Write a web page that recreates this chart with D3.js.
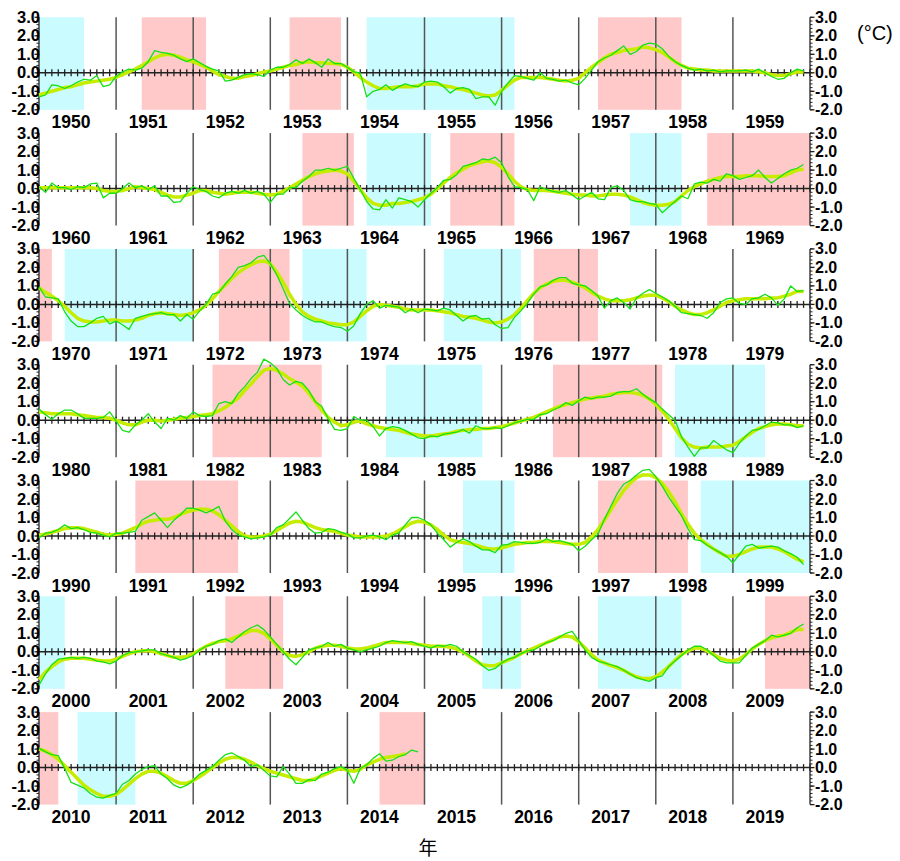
<!DOCTYPE html>
<html>
<head>
<meta charset="utf-8">
<script src="https://cdn.jsdelivr.net/npm/d3@7"></script>
<style>
  body { margin: 0; background: #fff; }
  svg text { font-family: Helvetica, Arial, 'Liberation Sans', sans-serif; }
</style>
</head>
<body>
<svg id="chart" width="900" height="861"></svg>
<script>
// NINO.3 SST deviation, monthly values (green) and 5-month running mean (yellow)
const decades = [1950, 1960, 1970, 1980, 1990, 2000, 2010];

const monthly1950s = [
  -1.3, -1.2, -0.65, -0.7, -0.85, -0.7, -0.5, -0.35, -0.4, -0.15, -0.75, -0.65,
  -0.2, 0.05, 0.2, 0.15, 0.25, 0.6, 1.2, 1.1, 1.05, 0.95, 0.75, 0.6,
  0.75, 0.55, 0.35, 0.2, 0.1, -0.45, -0.4, -0.25, -0.1, -0.05, -0.1, -0.2,
  0.15, 0.3, 0.3, 0.45, 0.7, 0.5, 0.75, 0.55, 0.3, 0.75, 0.5, 0.5,
  0.3, 0.05, 0.0, -1.3, -1.0, -0.9, -0.65, -0.95, -0.75, -0.6, -0.7, -0.75,
  -0.5, -0.45, -0.5, -0.75, -1.1, -0.85, -0.8, -0.9, -1.4, -1.3, -1.3, -1.75,
  -1.0, -0.55, -0.15, -0.2, -0.3, -0.4, 0.0, -0.3, -0.35, -0.45, -0.4, -0.55,
  -0.65, -0.3, 0.15, 0.6, 0.8, 0.95, 1.2, 1.45, 1.0, 1.15, 1.5, 1.6,
  1.55, 1.3, 0.9, 0.6, 0.4, 0.25, 0.15, 0.2, 0.1, 0.15, 0.05, 0.1,
  0.1, 0.1, 0.15, 0.05, 0.2, 0.0, -0.2, -0.35, -0.3, 0.0, 0.2, 0.1
];
const mean1950s = [
  -1.2, -1.1, -1.0, -0.9, -0.8, -0.75, -0.65, -0.55, -0.5, -0.45, -0.4, -0.35,
  -0.25, -0.1, 0.05, 0.2, 0.4, 0.6, 0.8, 0.95, 1.0, 0.95, 0.85, 0.7,
  0.6, 0.45, 0.3, 0.1, -0.1, -0.2, -0.3, -0.3, -0.2, -0.15, -0.05, 0.05,
  0.1, 0.2, 0.3, 0.4, 0.45, 0.55, 0.6, 0.55, 0.55, 0.5, 0.5, 0.45,
  0.3, 0.05, -0.25, -0.5, -0.7, -0.85, -0.85, -0.8, -0.75, -0.75, -0.75, -0.7,
  -0.6, -0.6, -0.6, -0.7, -0.75, -0.85, -0.9, -1.0, -1.1, -1.2, -1.25, -1.2,
  -0.95, -0.65, -0.4, -0.25, -0.25, -0.25, -0.25, -0.3, -0.35, -0.4, -0.45, -0.4,
  -0.3, 0.0, 0.3, 0.55, 0.8, 1.0, 1.1, 1.2, 1.25, 1.3, 1.4, 1.35,
  1.25, 1.1, 0.85, 0.6, 0.4, 0.25, 0.2, 0.15, 0.15, 0.1, 0.1, 0.1,
  0.1, 0.1, 0.1, 0.1, 0.05, 0.0, -0.1, -0.15, -0.15, -0.05, 0.05, 0.05
];

const monthly1960s = [
  0.1, -0.2, 0.3, 0.05, 0.05, -0.05, 0.1, 0.05, 0.25, 0.3, -0.5, -0.25,
  -0.25, 0.0, 0.3, 0.05, 0.15, -0.05, 0.15, -0.4, -0.4, -0.75, -0.7, -0.25,
  0.1, -0.05, -0.15, -0.4, -0.5, -0.25, -0.15, -0.25, -0.1, -0.25, -0.15, -0.3,
  -0.75, -0.3, -0.3, 0.05, 0.05, 0.4, 0.65, 1.0, 1.0, 1.1, 1.0, 1.1,
  1.2, 0.55, -0.05, -0.7, -1.1, -1.15, -0.6, -1.05, -0.5, -0.6, -0.7, -1.0,
  -0.6, -0.25, 0.05, 0.45, 0.5, 0.75, 1.2, 1.3, 1.4, 1.6, 1.55, 1.7,
  1.4, 0.65, 0.1, 0.05, -0.05, -0.65, 0.1, -0.05, -0.15, -0.2, -0.1, -0.35,
  -0.6, -0.4, -0.2, -0.55, -0.6, 0.05, 0.15, -0.1, -0.6, -0.7, -0.7, -0.8,
  -0.85, -1.3, -1.0, -0.7, -0.4, -0.55, 0.25, 0.35, 0.3, 0.5, 0.4, 0.8,
  0.7, 0.5, 0.6, 0.7, 1.0, 0.6, 0.3, 0.55, 0.8, 1.0, 1.1, 1.3
];
const mean1960s = [
  0.05, 0.05, 0.05, 0.05, 0.05, 0.05, 0.05, 0.05, 0.05, 0.0, -0.1, -0.15,
  -0.15, -0.1, 0.0, 0.1, 0.05, 0.0, -0.05, -0.2, -0.35, -0.45, -0.45, -0.35,
  -0.25, -0.1, -0.1, -0.2, -0.25, -0.3, -0.25, -0.2, -0.2, -0.2, -0.25, -0.3,
  -0.35, -0.3, -0.15, 0.05, 0.25, 0.45, 0.65, 0.8, 0.9, 0.95, 1.0, 0.95,
  0.8, 0.4, -0.05, -0.5, -0.8, -0.9, -0.9, -0.8, -0.8, -0.75, -0.7, -0.6,
  -0.5, -0.3, 0.0, 0.3, 0.6, 0.85, 1.05, 1.25, 1.35, 1.45, 1.5, 1.4,
  1.15, 0.8, 0.4, 0.1, -0.05, -0.1, -0.1, -0.1, -0.15, -0.2, -0.25, -0.3,
  -0.35, -0.35, -0.4, -0.4, -0.35, -0.3, -0.3, -0.35, -0.45, -0.6, -0.75, -0.85,
  -0.9, -0.9, -0.85, -0.7, -0.4, -0.1, 0.1, 0.25, 0.4, 0.5, 0.6, 0.65,
  0.65, 0.65, 0.7, 0.7, 0.7, 0.65, 0.65, 0.65, 0.7, 0.85, 1.0, 1.05
];

const monthly1970s = [
  0.95, 0.4, 0.35, 0.3, -0.4, -0.9, -1.2, -1.2, -1.0, -0.75, -0.65, -1.05,
  -0.9, -1.1, -1.35, -0.75, -0.65, -0.55, -0.5, -0.45, -0.55, -0.55, -0.9, -0.55,
  -0.8, -0.35, 0.0, 0.55, 0.65, 1.1, 1.5, 2.0, 2.1, 2.25, 2.55, 2.65,
  2.2, 1.6, 0.85, 0.05, -0.3, -0.6, -0.8, -0.95, -0.95, -1.1, -1.2, -1.25,
  -1.45, -1.15, -0.5, 0.0, 0.2, -0.2, -0.05, -0.1, -0.15, -0.45, -0.25, -0.45,
  -0.25, -0.3, -0.35, -0.2, -0.3, -0.6, -0.9, -0.65, -0.6, -0.8, -0.75, -1.1,
  -1.3, -1.25, -0.7, -0.35, 0.05, 0.55, 0.95, 1.05, 1.3, 1.45, 1.45, 1.15,
  1.05, 1.0, 0.75, 0.45, -0.2, 0.2, 0.35, 0.1, -0.25, 0.35, 0.6, 0.8,
  0.6, 0.4, 0.2, -0.1, -0.45, -0.5, -0.55, -0.6, -0.75, -0.45, 0.1, 0.3,
  0.35, 0.05, 0.0, 0.3, 0.35, 0.55, 0.35, -0.05, 0.3, 1.0, 0.7, 0.75
];
const mean1970s = [
  0.9, 0.65, 0.45, 0.2, -0.1, -0.45, -0.75, -0.9, -0.95, -0.95, -0.9, -0.85,
  -0.85, -0.9, -0.9, -0.85, -0.75, -0.6, -0.5, -0.45, -0.5, -0.55, -0.6, -0.55,
  -0.45, -0.3, -0.05, 0.3, 0.7, 1.05, 1.4, 1.7, 1.95, 2.15, 2.3, 2.35,
  2.2, 1.75, 1.2, 0.55, 0.0, -0.4, -0.65, -0.8, -0.9, -1.0, -1.05, -1.1,
  -1.1, -0.95, -0.65, -0.35, -0.1, 0.0, -0.05, -0.1, -0.15, -0.25, -0.3, -0.3,
  -0.3, -0.3, -0.35, -0.4, -0.45, -0.55, -0.65, -0.7, -0.75, -0.85, -0.95, -1.0,
  -0.95, -0.8, -0.55, -0.2, 0.2, 0.6, 0.9, 1.1, 1.25, 1.3, 1.3, 1.2,
  1.05, 0.9, 0.65, 0.45, 0.3, 0.2, 0.2, 0.2, 0.25, 0.35, 0.45, 0.5,
  0.5, 0.35, 0.15, -0.1, -0.3, -0.45, -0.55, -0.55, -0.45, -0.3, -0.1, 0.1,
  0.2, 0.25, 0.3, 0.3, 0.3, 0.3, 0.35, 0.35, 0.45, 0.55, 0.7, 0.7
];

const monthly1980s = [
  0.6, 0.3, 0.05, 0.35, 0.55, 0.55, 0.35, 0.1, 0.1, 0.1, 0.15, 0.45,
  -0.05, -0.55, -0.65, -0.25, 0.0, 0.35, -0.1, -0.45, 0.1, 0.0, 0.25, 0.1,
  0.45, 0.25, 0.2, 0.25, 0.9, 1.0, 0.9, 1.45, 1.8, 2.25, 2.6, 3.3,
  3.1, 2.8, 2.2, 1.9, 2.1, 2.0, 1.6, 1.0, 0.75, 0.1, -0.5, -0.55,
  -0.45, 0.2, 0.0, 0.0, -0.35, -0.85, -0.45, -0.35, -0.4, -0.55, -0.75, -0.95,
  -1.0, -0.85, -0.9, -0.75, -0.7, -0.65, -0.5, -0.7, -0.3, -0.45, -0.45, -0.4,
  -0.45, -0.3, -0.15, -0.05, 0.05, 0.05, 0.3, 0.35, 0.55, 0.7, 0.95, 0.8,
  1.05, 1.25, 1.15, 1.25, 1.25, 1.3, 1.5, 1.55, 1.55, 1.7, 1.4, 1.15,
  0.95, 0.6, 0.3, 0.0, -0.9, -1.45, -1.95, -1.5, -1.5, -1.1, -1.35, -1.6,
  -1.75, -1.25, -0.85, -0.55, -0.5, -0.3, -0.1, -0.15, -0.25, -0.25, -0.4, -0.3
];
const mean1980s = [
  0.45, 0.4, 0.35, 0.35, 0.35, 0.35, 0.3, 0.25, 0.2, 0.15, 0.15, 0.1,
  0.0, -0.15, -0.25, -0.25, -0.1, 0.0, 0.0, -0.05, 0.0, 0.05, 0.1, 0.15,
  0.2, 0.25, 0.3, 0.35, 0.5, 0.7, 0.95, 1.2, 1.6, 1.95, 2.35, 2.7,
  2.8, 2.7, 2.5, 2.25, 2.05, 1.85, 1.45, 1.0, 0.55, 0.15, -0.1, -0.3,
  -0.25, -0.1, -0.05, -0.2, -0.3, -0.4, -0.45, -0.5, -0.55, -0.65, -0.75, -0.8,
  -0.85, -0.85, -0.8, -0.75, -0.7, -0.6, -0.55, -0.5, -0.5, -0.45, -0.45, -0.4,
  -0.35, -0.25, -0.15, -0.05, 0.05, 0.15, 0.3, 0.45, 0.6, 0.75, 0.85, 0.95,
  1.05, 1.15, 1.2, 1.25, 1.3, 1.4, 1.45, 1.5, 1.5, 1.45, 1.35, 1.15,
  0.85, 0.5, 0.05, -0.45, -0.95, -1.3, -1.45, -1.5, -1.45, -1.45, -1.45, -1.4,
  -1.35, -1.15, -0.9, -0.65, -0.45, -0.35, -0.25, -0.2, -0.2, -0.25, -0.3, -0.3
];

const monthly1990s = [
  -0.1, 0.15, 0.2, 0.35, 0.6, 0.4, 0.45, 0.35, 0.2, 0.15, 0.05, -0.05,
  0.15, 0.15, 0.2, 0.25, 0.85, 1.05, 1.25, 0.85, 0.45, 0.85, 1.15, 1.5,
  1.5, 1.4, 1.25, 1.4, 1.6, 0.8, 0.35, 0.05, -0.05, -0.15, -0.1, -0.05,
  0.05, 0.45, 0.6, 0.95, 1.3, 0.85, 0.4, 0.15, 0.2, 0.4, 0.35, 0.2,
  0.1, -0.1, -0.1, 0.0, 0.05, -0.05, -0.2, 0.05, 0.15, 0.6, 1.0, 1.0,
  0.85, 0.6, 0.15, -0.2, -0.6, -0.35, -0.15, -0.3, -0.55, -0.75, -0.75, -0.9,
  -0.5, -0.45, -0.3, -0.35, -0.4, -0.4, -0.35, -0.15, -0.3, -0.25, -0.35, -0.45,
  -0.8, -0.55, -0.2, 0.1, 0.9, 1.6, 2.3, 2.8, 3.0, 3.3, 3.55, 3.6,
  3.2, 2.7, 2.1, 1.6, 1.1, 0.4, -0.2, -0.25, -0.5, -0.7, -0.9, -1.1,
  -1.45, -1.0, -0.55, -0.45, -0.65, -0.6, -0.55, -0.6, -0.8, -0.95, -1.15, -1.55
];
const mean1990s = [
  0.05, 0.1, 0.2, 0.3, 0.4, 0.45, 0.45, 0.4, 0.3, 0.2, 0.1, 0.05,
  0.1, 0.15, 0.3, 0.45, 0.65, 0.8, 0.85, 0.9, 0.9, 1.0, 1.15, 1.3,
  1.4, 1.45, 1.45, 1.35, 1.15, 0.85, 0.55, 0.25, 0.0, -0.05, -0.05, 0.0,
  0.1, 0.3, 0.5, 0.7, 0.8, 0.75, 0.6, 0.45, 0.35, 0.3, 0.25, 0.15,
  0.05, 0.0, -0.05, -0.05, -0.05, -0.05, 0.0, 0.1, 0.3, 0.5, 0.7, 0.8,
  0.75, 0.6, 0.35, 0.05, -0.2, -0.3, -0.35, -0.4, -0.5, -0.6, -0.7, -0.7,
  -0.65, -0.55, -0.45, -0.4, -0.35, -0.35, -0.3, -0.3, -0.3, -0.35, -0.4, -0.45,
  -0.45, -0.35, -0.05, 0.35, 0.85, 1.4, 1.95, 2.45, 2.85, 3.15, 3.3, 3.3,
  3.15, 2.85, 2.4, 1.85, 1.2, 0.65, 0.15, -0.2, -0.45, -0.7, -0.9, -1.1,
  -1.1, -1.0, -0.85, -0.7, -0.6, -0.6, -0.6, -0.7, -0.85, -1.05, -1.25, -1.4
];

const monthly2000s = [
  -1.8, -1.2, -0.7, -0.4, -0.35, -0.3, -0.35, -0.3, -0.35, -0.5, -0.55, -0.65,
  -0.5, -0.2, -0.05, 0.0, 0.05, 0.1, 0.1, -0.1, -0.2, -0.3, -0.45, -0.35,
  -0.2, 0.1, 0.3, 0.4, 0.6, 0.7, 0.5, 0.8, 1.1, 1.3, 1.45, 1.2,
  0.8, 0.4, 0.0, -0.4, -0.7, -0.3, 0.1, 0.2, 0.3, 0.5, 0.3, 0.4,
  0.2, 0.1, 0.0, 0.1, 0.2, 0.3, 0.5, 0.6, 0.55, 0.5, 0.55, 0.4,
  0.3, 0.2, 0.35, 0.3, 0.4, 0.3, 0.0, -0.2, -0.4, -0.75, -1.0, -0.9,
  -0.6, -0.4, -0.3, -0.1, 0.05, 0.1, 0.3, 0.5, 0.6, 0.8, 1.0, 1.1,
  0.6, 0.1, -0.3, -0.5, -0.6, -0.7, -0.8, -1.0, -1.2, -1.4, -1.5, -1.6,
  -1.4, -1.3, -0.8, -0.5, -0.2, 0.1, 0.3, 0.3, 0.1, -0.2, -0.5, -0.6,
  -0.6, -0.6, -0.2, 0.2, 0.4, 0.6, 0.9, 0.8, 0.9, 1.0, 1.3, 1.5
];
const mean2000s = [
  -1.5, -1.1, -0.8, -0.55, -0.4, -0.35, -0.35, -0.35, -0.4, -0.45, -0.5, -0.5,
  -0.4, -0.25, -0.1, 0.0, 0.05, 0.05, 0.0, -0.1, -0.2, -0.3, -0.3, -0.25,
  -0.1, 0.1, 0.3, 0.45, 0.55, 0.6, 0.7, 0.85, 1.0, 1.15, 1.15, 1.0,
  0.7, 0.35, 0.0, -0.2, -0.25, -0.15, 0.0, 0.2, 0.3, 0.35, 0.35, 0.3,
  0.2, 0.15, 0.15, 0.2, 0.3, 0.4, 0.5, 0.5, 0.5, 0.5, 0.45, 0.4,
  0.35, 0.3, 0.3, 0.3, 0.25, 0.15, 0.0, -0.25, -0.5, -0.7, -0.75, -0.75,
  -0.6, -0.45, -0.3, -0.1, 0.05, 0.2, 0.35, 0.5, 0.65, 0.8, 0.85, 0.8,
  0.55, 0.2, -0.15, -0.45, -0.6, -0.75, -0.85, -1.0, -1.2, -1.35, -1.45, -1.45,
  -1.35, -1.1, -0.8, -0.45, -0.15, 0.05, 0.2, 0.2, 0.05, -0.15, -0.35, -0.45,
  -0.5, -0.4, -0.15, 0.15, 0.4, 0.6, 0.75, 0.85, 0.9, 1.05, 1.2, 1.2
];

const monthly2010s = [
  1.05, 0.85, 0.7, 0.65, -0.05, -0.8, -0.95, -1.1, -1.4, -1.6, -1.65, -1.5,
  -1.4, -0.9, -0.7, -0.35, -0.1, 0.05, 0.1, -0.35, -0.6, -0.95, -1.1, -0.95,
  -0.7, -0.35, -0.15, 0.05, 0.4, 0.7, 0.8, 0.6, 0.4, 0.05, 0.15, -0.15,
  -0.45, -0.5, 0.05, -0.35, -0.85, -0.85, -0.65, -0.7, -0.35, -0.25, -0.05, 0.05,
  -0.15, -0.85, -0.05, 0.15, 0.5, 0.75, 0.35, 0.4, 0.6, 0.7, 0.95, 0.85
];
const mean2010s = [
  1.0, 0.9, 0.7, 0.45, 0.1, -0.25, -0.6, -0.95, -1.2, -1.4, -1.55, -1.55,
  -1.45, -1.2, -0.9, -0.6, -0.35, -0.2, -0.2, -0.3, -0.5, -0.7, -0.85, -0.85,
  -0.7, -0.5, -0.25, 0.0, 0.25, 0.45, 0.55, 0.55, 0.45, 0.3, 0.1, -0.05,
  -0.2, -0.3, -0.4, -0.5, -0.6, -0.7, -0.7, -0.6, -0.45, -0.3, -0.15, -0.05,
  -0.15, -0.2, -0.1, 0.15, 0.3, 0.45, 0.55, 0.6, 0.65, 0.75
];

// El Nino (pink) and La Nina (cyan) periods, first and last month
const elNino = [
  ['1951-05', '1952-02'], ['1953-04', '1953-11'], ['1957-04', '1958-04'],
  ['1963-06', '1964-01'], ['1965-05', '1966-02'], ['1968-09', '1970-02'],
  ['1972-05', '1973-03'], ['1976-06', '1977-03'], ['1982-04', '1983-08'],
  ['1986-09', '1988-01'], ['1991-04', '1992-07'], ['1997-04', '1998-05'],
  ['2002-06', '2003-02'], ['2009-06', '2010-03'], ['2014-06', '2014-12']
];
const laNina = [
  ['1950-01', '1950-07'], ['1954-04', '1956-02'], ['1964-04', '1965-01'],
  ['1967-09', '1968-04'], ['1970-05', '1971-12'], ['1973-06', '1974-03'],
  ['1975-04', '1976-03'], ['1984-07', '1985-09'], ['1988-04', '1989-05'],
  ['1995-07', '1996-02'], ['1998-08', '2000-04'], ['2005-10', '2006-03'],
  ['2007-04', '2008-04'], ['2010-07', '2011-03']
];

const yTicks = [3, 2, 1, 0, -1, -2];

const monthlyByDecade = [monthly1950s, monthly1960s, monthly1970s, monthly1980s, monthly1990s, monthly2000s, monthly2010s];
const meanByDecade = [mean1950s, mean1960s, mean1970s, mean1980s, mean1990s, mean2000s, mean2010s];

// layout
const left = 39, right = 810;
const panelTop = 17.3, panelStep = 115.8, panelH = 92.5;

const svg = d3.select('#chart');

const x = d3.scaleLinear().domain([0, 120]).range([left, right]);
const y = d3.scaleLinear().domain([-2, 3]).range([panelH, 0]);

// month index counted from January of the panel's decade
function monthIndex(s, decade) {
  const [yy, mm] = s.split('-').map(Number);
  return (yy - decade) * 12 + (mm - 1);
}

decades.forEach((decade, i) => {
  const g = svg.append('g')
    .attr('transform', `translate(0,${panelTop + i * panelStep})`);

  // shaded periods
  const shade = (periods, color) => {
    periods.forEach(p => {
      const s = Math.max(0, monthIndex(p[0], decade));
      const e = Math.min(120, monthIndex(p[1], decade) + 1);
      if (e <= s) return;
      g.append('rect')
        .attr('x', x(s))
        .attr('y', 0)
        .attr('width', x(e) - x(s))
        .attr('height', panelH)
        .attr('fill', color);
    });
  };
  shade(elNino, '#ffc9c9');
  shade(laNina, '#c9fbff');

  // year separators
  g.selectAll('.yearline')
    .data(d3.range(12, 120, 12))
    .enter()
    .append('line')
    .attr('x1', d => x(d)).attr('x2', d => x(d))
    .attr('y1', 0).attr('y2', panelH)
    .attr('stroke', '#555')
    .attr('stroke-width', 1.5);

  // zero line with monthly ticks
  g.append('line')
    .attr('x1', left).attr('x2', right)
    .attr('y1', y(0)).attr('y2', y(0))
    .attr('stroke', '#222')
    .attr('stroke-width', 1.5);
  g.selectAll('.mtick')
    .data(d3.range(0, 121))
    .enter()
    .append('line')
    .attr('x1', d => x(d)).attr('x2', d => x(d))
    .attr('y1', y(0) - 3.5).attr('y2', y(0) + 3.5)
    .attr('stroke', '#222')
    .attr('stroke-width', 1.3);

  // left and right axes
  const minor = d3.range(-2, 3.01, 0.2);
  [[left, -1], [right, 1]].forEach(([ax, dir]) => {
    g.append('line')
      .attr('x1', ax).attr('x2', ax)
      .attr('y1', 0).attr('y2', panelH)
      .attr('stroke', '#222').attr('stroke-width', 1.3);
    g.selectAll(null)
      .data(minor)
      .enter()
      .append('line')
      .attr('x1', ax).attr('x2', ax + dir * 2.5)
      .attr('y1', d => y(d)).attr('y2', d => y(d))
      .attr('stroke', '#222').attr('stroke-width', 1);
    g.selectAll(null)
      .data(yTicks)
      .enter()
      .append('line')
      .attr('x1', ax).attr('x2', ax + dir * 4.5)
      .attr('y1', d => y(d)).attr('y2', d => y(d))
      .attr('stroke', '#222').attr('stroke-width', 1.3);
  });
  g.selectAll('.ylabL')
    .data(yTicks)
    .enter()
    .append('text')
    .attr('x', left + 1)
    .attr('y', d => y(d) + 5.5)
    .attr('text-anchor', 'end')
    .style('font-size', '16.5px')
    .style('font-weight', 'bold')
    .text(d => d.toFixed(1));
  g.selectAll('.ylabR')
    .data(yTicks)
    .enter()
    .append('text')
    .attr('x', right + 5)
    .attr('y', d => y(d) + 5.5)
    .attr('text-anchor', 'start')
    .style('font-size', '16px')
    .style('font-weight', 'bold')
    .text(d => d.toFixed(1));

  // running mean, then monthly values
  const line = d3.line()
    .x((d, k) => x(k))
    .y(d => y(d));
  g.append('path')
    .datum(meanByDecade[i])
    .attr('d', line)
    .attr('fill', 'none')
    .attr('stroke', '#c6ec00')
    .attr('stroke-width', 3.5)
    .attr('stroke-linejoin', 'round');
  g.append('path')
    .datum(monthlyByDecade[i])
    .attr('d', line)
    .attr('fill', 'none')
    .attr('stroke', '#16e016')
    .attr('stroke-width', 1.3)
    .attr('stroke-linejoin', 'round');

  // year labels
  g.selectAll('.ylab')
    .data(d3.range(10))
    .enter()
    .append('text')
    .attr('x', d => x(d * 12) + 32)
    .attr('y', panelH + 18.5)
    .attr('text-anchor', 'middle')
    .style('font-size', '17.5px')
    .style('font-weight', 'bold')
    .text(d => decade + d);
});

// unit and axis title
svg.append('text')
  .attr('x', 857)
  .attr('y', 40)
  .style('font-size', '20px')
  .text('(°C)');

svg.append('text')
  .attr('x', 428)
  .attr('y', 855)
  .attr('text-anchor', 'middle')
  .style('font-size', '19px')
  .style('font-family', "'Noto Sans CJK JP', sans-serif")
  .text('年');
</script>
</body>
</html>
